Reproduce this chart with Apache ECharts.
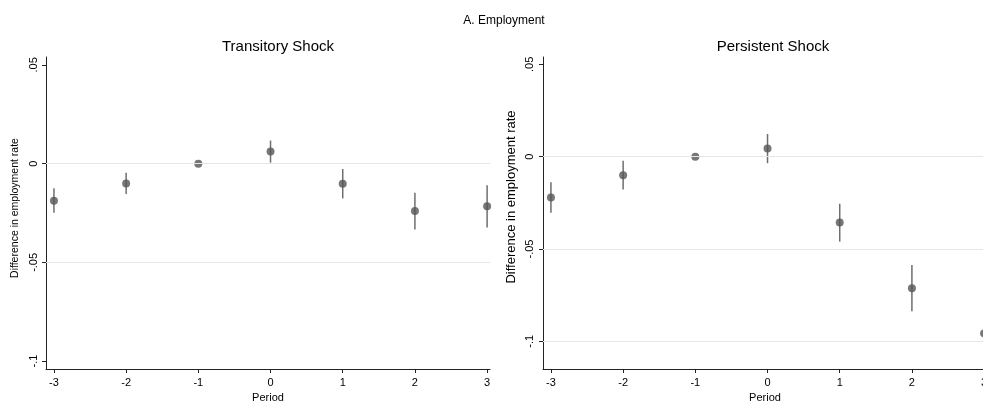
<!DOCTYPE html>
<html><head><meta charset="utf-8">
<script src="https://cdn.jsdelivr.net/npm/echarts@6/dist/echarts.min.js"></script>
<style>html,body{margin:0;padding:0;background:#fff}#c{width:983px;height:401px}</style>
</head><body><div id="c"></div>
<script>
const periods = [-3, -2, -1, 0, 1, 2, 3];
const transCoef = [-0.0188, -0.0100, 0, 0.0061, -0.0102, -0.0240, -0.0216];
const transLo   = [-0.0249, -0.0154, 0, 0.0005, -0.0176, -0.0333, -0.0323];
const transHi   = [-0.0125, -0.0046, 0, 0.0117, -0.0027, -0.0147, -0.0110];
const persCoef  = [-0.0221, -0.0100, 0, 0.0045, -0.0357, -0.0712, -0.0957];
const persLo    = [-0.0304, -0.0178, 0, -0.0035, -0.0460, -0.0837, -0.1080];
const persHi    = [-0.0138, -0.0022, 0, 0.0123, -0.0255, -0.0587, -0.0830];
const yTicks = [-0.1, -0.05, 0, 0.05];
const xTicks = [-3, -2, -1, 0, 1, 2, 3];
const transGridLines = [0, -0.05];
const persGridLines = [0, -0.05, -0.1];
const titles = ['Transitory Shock', 'Persistent Shock'];

const FONT = '"Liberation Sans", Arial, sans-serif';
const fmtY = v => v === 0 ? '0' : String(+v.toFixed(3)).replace('0.', '.');

function xAxis(i) {
  return {
    type: 'value', gridIndex: i, min: -3.11, max: 3.04,
    name: 'Period', nameLocation: 'middle', nameGap: 21,
    nameTextStyle: {fontFamily: FONT, fontSize: 11, color: '#000'},
    axisLine: {show: true, onZero: false, lineStyle: {color: '#222', width: 1}},
    axisTick: {show: true, length: 4, customValues: xTicks, lineStyle: {color: '#222'}},
    axisLabel: {customValues: xTicks, fontFamily: FONT, fontSize: 11, color: '#000', margin: 8},
    splitLine: {show: false}
  };
}
function yAxis(i, min, nameSize, lblMargin, namePad) {
  return {
    type: 'value', gridIndex: i, min: min, max: 0.054,
    name: 'Difference in employment rate', nameLocation: 'middle', nameGap: 25,
    nameTextStyle: {fontFamily: FONT, fontSize: nameSize, color: '#000', padding: namePad},
    axisLine: {show: true, onZero: false, lineStyle: {color: '#222', width: 1}},
    axisTick: {show: true, length: 4, customValues: yTicks, lineStyle: {color: '#222'}},
    axisLabel: {customValues: yTicks, rotate: 90, fontFamily: FONT, fontSize: 11, color: '#000', margin: lblMargin, formatter: fmtY},
    splitLine: {show: false}
  };
}
function ciSeries(i, lo, hi, gl) {
  return {
    type: 'custom', xAxisIndex: i, yAxisIndex: i, z: 2,
    data: periods.map((p, k) => [p, lo[k], hi[k]]),
    renderItem: (params, api) => {
      const a = api.coord([api.value(0), api.value(1)]);
      const b = api.coord([api.value(0), api.value(2)]);
      return {type: 'line', shape: {x1: a[0], y1: a[1], x2: b[0], y2: b[1]},
        style: {stroke: '#6e6e6e', lineWidth: 1.5}};
    },
    markLine: {
      silent: true, symbol: 'none', label: {show: false},
      lineStyle: {color: '#e6e6e6', type: 'solid', width: 1},
      data: gl.map(v => ({yAxis: v}))
    }
  };
}
function ptSeries(i, coef) {
  return {
    type: 'scatter', xAxisIndex: i, yAxisIndex: i, z: 3,
    symbol: 'circle', symbolSize: 8,
    itemStyle: {color: '#555555'},
    data: periods.map((p, k) => [p, coef[k]])
  };
}

const chart = echarts.init(document.getElementById('c'), null, {renderer: 'canvas'});
chart.setOption({
  animation: false,
  backgroundColor: '#fff',
  title: [
    {text: 'A. Employment', left: 499, top: 10, textAlign: 'center',
     textStyle: {fontFamily: FONT, fontSize: 12, fontWeight: 'normal', color: '#000'}},
    {text: titles[0], left: 273, top: 34, textAlign: 'center',
     textStyle: {fontFamily: FONT, fontSize: 15, fontWeight: 'normal', color: '#000'}},
    {text: titles[1], left: 768, top: 34, textAlign: 'center',
     textStyle: {fontFamily: FONT, fontSize: 15, fontWeight: 'normal', color: '#000'}}
  ],
  grid: [
    {left: 46, top: 57, width: 444, height: 312, outerBoundsMode: 'none', containLabel: false},
    {left: 543, top: 57, width: 444, height: 312, outerBoundsMode: 'none', containLabel: false}
  ],
  xAxis: [xAxis(0), xAxis(1)],
  yAxis: [yAxis(0, -0.104, 10.5, 7, [0, 0, 0, 10]), yAxis(1, -0.115, 13, 8, [0, 0, 0, 32])],
  series: [
    ciSeries(0, transLo, transHi, transGridLines),
    ptSeries(0, transCoef),
    ciSeries(1, persLo, persHi, persGridLines),
    ptSeries(1, persCoef)
  ]
});
</script></body></html>
